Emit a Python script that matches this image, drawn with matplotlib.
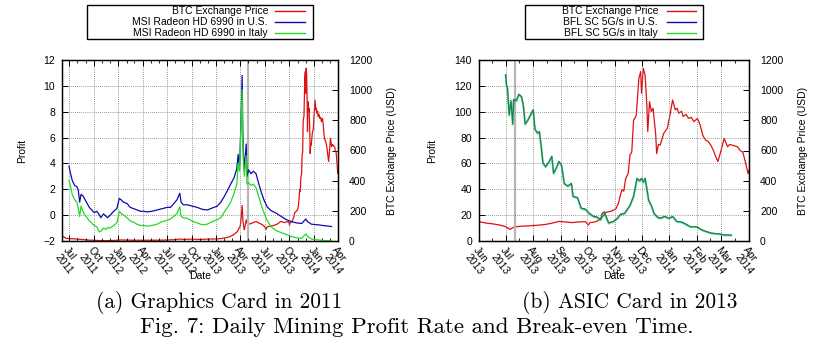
import matplotlib
matplotlib.use("Agg")
import matplotlib.pyplot as plt
import matplotlib.dates as mdates
from matplotlib.lines import Line2D
from matplotlib.patches import Rectangle
import pandas as pd

# BTC exchange price in USD (shared by both panels)
BTC_DATES = [
    "2011-06-05", "2011-06-10", "2011-06-20", "2011-07-01", "2011-07-15", "2011-08-01",
    "2011-08-15", "2011-09-01", "2011-09-15", "2011-10-01", "2011-10-20", "2011-11-01",
    "2011-11-18", "2011-12-01", "2011-12-20", "2012-01-10", "2012-02-01", "2012-03-01",
    "2012-04-01", "2012-05-01", "2012-06-01", "2012-07-01", "2012-08-01", "2012-08-16",
    "2012-09-01", "2012-10-01", "2012-11-01", "2012-12-01", "2013-01-01", "2013-01-20",
    "2013-02-01", "2013-02-20", "2013-03-07", "2013-03-20", "2013-03-26", "2013-04-01",
    "2013-04-04", "2013-04-08", "2013-04-09", "2013-04-11", "2013-04-16", "2013-04-18",
    "2013-04-23", "2013-04-27", "2013-05-01", "2013-05-09", "2013-05-20", "2013-05-28",
    "2013-06-01", "2013-06-10", "2013-06-16", "2013-06-25", "2013-07-01", "2013-07-06",
    "2013-07-10", "2013-07-18", "2013-07-27", "2013-08-05", "2013-08-15", "2013-08-22",
    "2013-08-30", "2013-09-07", "2013-09-14", "2013-09-22", "2013-09-29", "2013-10-02",
    "2013-10-04", "2013-10-10", "2013-10-14", "2013-10-18", "2013-10-22", "2013-10-28",
    "2013-11-02", "2013-11-05", "2013-11-07", "2013-11-09", "2013-11-11", "2013-11-13",
    "2013-11-16", "2013-11-18", "2013-11-20", "2013-11-22", "2013-11-25", "2013-11-28",
    "2013-11-30", "2013-12-01", "2013-12-03", "2013-12-05", "2013-12-07", "2013-12-08",
    "2013-12-10", "2013-12-12", "2013-12-14", "2013-12-16", "2013-12-17", "2013-12-18",
    "2013-12-20", "2013-12-22", "2013-12-26", "2013-12-30", "2014-01-02", "2014-01-05",
    "2014-01-08", "2014-01-10", "2014-01-12", "2014-01-15", "2014-01-17", "2014-01-20",
    "2014-01-23", "2014-01-26", "2014-01-29", "2014-02-02", "2014-02-05", "2014-02-08",
    "2014-02-11", "2014-02-14", "2014-02-17", "2014-02-20", "2014-02-22", "2014-02-25",
    "2014-02-28", "2014-03-04", "2014-03-08", "2014-03-10", "2014-03-13", "2014-03-16",
    "2014-03-19", "2014-03-22", "2014-03-25", "2014-03-28", "2014-03-31", "2014-04-01",
]
BTC_PRICE = [
    20, 30, 17, 16, 14, 13,
    10, 8, 5.5, 5, 3, 3.2,
    2.2, 3, 4, 7, 6, 5,
    4.9, 5, 5.3, 6.7, 9, 13,
    10.5, 12.4, 10.6, 12.5, 13.5, 16,
    20, 28, 42, 60, 80, 100,
    150, 235, 200, 130, 75, 90,
    140, 117, 110, 115, 122, 128,
    128, 118, 114, 105, 95, 77,
    92, 98, 100, 104, 110, 118,
    130, 126, 122, 127, 128, 105,
    122, 127, 139, 160, 190, 198,
    212, 250, 300, 340, 330, 410,
    450, 570, 590, 800, 830, 1078,
    1123, 980, 1145, 1100, 900, 725,
    924, 858, 880, 760, 703, 580,
    640, 636, 714, 747, 835, 935,
    869, 880, 847, 860, 825, 840,
    813, 820, 791, 813, 769, 700,
    670, 660, 636, 600, 567, 527,
    589, 680, 625, 640, 636, 630,
    625, 600, 589, 523, 446, 470,
]

# (a) graphics card profit
GPU_DATES = [
    "2011-07-01", "2011-07-06", "2011-07-13", "2011-07-22", "2011-07-31", "2011-08-05",
    "2011-08-10", "2011-08-15", "2011-08-22", "2011-08-30", "2011-09-07", "2011-09-15",
    "2011-09-24", "2011-10-03", "2011-10-13", "2011-10-23", "2011-10-28", "2011-11-07",
    "2011-11-17", "2011-11-22", "2011-12-02", "2011-12-15", "2011-12-27", "2012-01-05",
    "2012-01-11", "2012-01-21", "2012-02-03", "2012-02-15", "2012-02-28", "2012-03-11",
    "2012-03-24", "2012-04-05", "2012-04-18", "2012-05-06", "2012-05-25", "2012-06-13",
    "2012-07-02", "2012-07-14", "2012-07-27", "2012-08-08", "2012-08-18", "2012-08-23",
    "2012-08-31", "2012-09-15", "2012-10-03", "2012-10-22", "2012-11-10", "2012-11-29",
    "2012-12-17", "2013-01-05", "2013-01-18", "2013-01-30", "2013-02-12", "2013-02-24",
    "2013-03-09", "2013-03-19", "2013-03-24", "2013-03-29", "2013-04-03", "2013-04-08",
    "2013-04-10", "2013-04-12", "2013-04-16", "2013-04-19", "2013-04-23", "2013-04-26",
    "2013-05-02", "2013-05-11", "2013-05-20", "2013-05-30", "2013-06-08", "2013-06-18",
    "2013-06-28", "2013-07-10", "2013-07-25", "2013-08-13", "2013-09-01", "2013-09-20",
    "2013-10-09", "2013-10-28", "2013-11-16", "2013-12-02", "2013-12-08", "2013-12-23",
    "2014-01-17", "2014-02-11", "2014-03-08",
]
GPU_US = [
    3.8, 3.3, 2.7, 2.3, 2.2, 1.9,
    1.0, 1.6, 1.5, 1.2, 0.9, 0.6,
    0.4, 0.2, 0.3, 0.0, -0.2, 0.1,
    -0.1, -0.2, 0.0, 0.3, 0.5, 1.3,
    1.2, 1.0, 0.9, 0.6, 0.5, 0.4,
    0.3, 0.3, 0.25, 0.3, 0.4, 0.5,
    0.6, 0.6, 0.9, 1.2, 1.7, 1.0,
    0.8, 0.8, 0.7, 0.6, 0.45, 0.4,
    0.55, 0.7, 1.0, 1.4, 1.9, 2.4,
    2.9, 3.6, 4.7, 3.6, 6.8, 10.8,
    7.0, 5.0, 3.5, 4.4, 5.5, 3.0,
    3.5, 3.2, 3.4, 3.2, 2.5, 1.8,
    1.2, 0.65, 0.35, 0.15, -0.1, -0.35,
    -0.5, -0.6, -0.65, -0.3, -0.5, -0.7,
    -0.75, -0.82, -0.88,
]
GPU_IT = [
    2.7, 2.3, 1.6, 1.2, 1.0, 0.5,
    -0.1, 0.7, 0.3, 0.0, -0.2, -0.45,
    -0.6, -0.8, -0.9, -1.3, -1.25, -1.0,
    -1.1, -0.95, -1.0, -0.8, -0.6, 0.3,
    0.15, 0.0, -0.2, -0.45, -0.55, -0.7,
    -0.8, -0.8, -0.85, -0.8, -0.7, -0.5,
    -0.4, -0.3, -0.1, 0.15, 0.65, -0.1,
    -0.2, -0.25, -0.45, -0.6, -0.75, -0.7,
    -0.5, -0.35, -0.2, 0.2, 0.6, 1.0,
    1.7, 2.4, 4.0, 3.4, 6.5, 9.7,
    6.0, 4.4, 3.0, 3.6, 4.6, 2.4,
    2.5, 2.3, 2.4, 2.1, 1.5, 0.8,
    0.2, -0.4, -0.9, -1.2, -1.35, -1.5,
    -1.65, -1.75, -1.8, -1.45, -1.65, -1.85,
    -1.92, -1.97, -1.99,
]

# (b) ASIC card profit
ASIC_DATES = [
    "2013-07-01", "2013-07-02", "2013-07-03", "2013-07-05", "2013-07-07", "2013-07-09",
    "2013-07-10", "2013-07-13", "2013-07-16", "2013-07-19", "2013-07-21", "2013-07-23",
    "2013-07-26", "2013-07-29", "2013-08-01", "2013-08-03", "2013-08-06", "2013-08-08",
    "2013-08-10", "2013-08-12", "2013-08-15", "2013-08-19", "2013-08-22", "2013-08-24",
    "2013-08-27", "2013-08-30", "2013-09-02", "2013-09-05", "2013-09-09", "2013-09-13",
    "2013-09-15", "2013-09-20", "2013-09-24", "2013-09-29", "2013-10-03", "2013-10-08",
    "2013-10-12", "2013-10-16", "2013-10-18", "2013-10-20", "2013-10-25", "2013-10-30",
    "2013-11-04", "2013-11-07", "2013-11-12", "2013-11-18", "2013-11-22", "2013-11-26",
    "2013-11-29", "2013-12-01", "2013-12-03", "2013-12-05", "2013-12-07", "2013-12-09",
    "2013-12-12", "2013-12-15", "2013-12-19", "2013-12-22", "2013-12-27", "2014-01-01",
    "2014-01-05", "2014-01-10", "2014-01-14", "2014-01-18", "2014-01-25", "2014-02-01",
    "2014-02-07", "2014-02-12", "2014-02-18", "2014-02-26", "2014-03-04", "2014-03-12",
]
ASIC_US = [
    128.5, 120.5, 118.5, 97.5, 108.5, 90.5,
    109.5, 108.5, 113.5, 111.5, 104.5, 90.5,
    93.5, 97.5, 101.5, 86.5, 83.5, 84.5,
    73.5, 60.5, 57.5, 61.5, 65.5, 52.5,
    56.5, 61.5, 58.5, 44.5, 42.5, 44.5,
    34.5, 33.5, 25.5, 24.5, 21.5, 19,
    18.5, 16.5, 21.5, 22.5, 14, 15,
    17.5, 20.5, 21.5, 27.5, 34.5, 48.5,
    46.5, 48.5, 45.5, 48.5, 40.5, 31.5,
    27.5, 21.5, 18.5, 17.5, 19, 17.5,
    19, 15, 14.8, 13.8, 11, 11,
    8.6, 7.3, 6, 5.5, 4.7, 4.5,
]
ASIC_IT = [
    128, 120, 118, 97, 108, 90,
    109, 108, 113, 111, 104, 90,
    93, 97, 101, 86, 83, 84,
    73, 60, 57, 61, 65, 52,
    56, 61, 58, 44, 42, 44,
    34, 33, 25, 24, 21, 18.6,
    18, 16, 21, 22, 13.4, 14.7,
    17.3, 20, 21, 27, 34, 48,
    46, 48, 45, 48, 40, 31,
    27, 21, 18, 17.3, 18.6, 17.3,
    18.6, 14.7, 14.5, 13.4, 10.8, 10.8,
    8.3, 7, 5.7, 5.2, 4.4, 4.2,
]

GPU_BREAK_EVEN = "2013-04-28"
ASIC_BREAK_EVEN = "2013-07-12"

RED = "#e01010"
BLUE = "#0c0cb0"
GREEN = "#22dd22"
SANS = "Liberation Sans"
FS = 7.5

plt.rcParams["font.family"] = SANS
plt.rcParams["font.size"] = FS


def style_axes(ax, ax2):
    ax.tick_params(which="both", direction="in", top=True, labelsize=FS)
    ax.tick_params(which="major", length=4, width=0.7)
    ax.tick_params(which="minor", length=2, width=0.6)
    ax.tick_params(axis="y", pad=5)
    ax.tick_params(axis="x", pad=3)
    ax2.tick_params(direction="in", length=4, width=0.7, labelsize=FS, pad=8)
    ax.grid(True, which="major", color="#777777", linestyle=(0, (1, 1.5)), linewidth=0.6)
    for sp in ax.spines.values():
        sp.set_linewidth(1.0)
    for lab in ax.get_xticklabels():
        lab.set_rotation(-52)
        lab.set_ha("left")
        lab.set_va("top")
        lab.set_rotation_mode("anchor")
        lab.set_linespacing(1.1)
    ax.set_zorder(ax2.get_zorder() + 1)
    ax.patch.set_visible(False)


def draw_legend(fig, box, text_right, line_x, labels, colors):
    W, H = fig.get_size_inches() * fig.dpi
    x0, y0, x1, y1 = box
    fig.add_artist(Rectangle((x0 / W, 1 - y1 / H), (x1 - x0) / W, (y1 - y0) / H,
                             transform=fig.transFigure, fill=False, edgecolor="black", linewidth=1.0))
    for i, (lab, col) in enumerate(zip(labels, colors)):
        yc = 1 - (y0 + 6 + i * 11) / H
        fig.text(text_right / W, yc, lab, ha="right", va="center", fontsize=FS)
        fig.add_artist(Line2D([line_x[0] / W, line_x[1] / W], [yc, yc],
                              transform=fig.transFigure, color=col, linewidth=1.0))


fig = plt.figure(figsize=(8.33, 3.51), dpi=100)
W, H = 833, 351

btc_dates = pd.to_datetime(BTC_DATES)

# (a) graphics card
ax = fig.add_axes([62 / W, 1 - 241 / H, 276 / W, 181 / H])
ax2 = ax.twinx()
ax2.plot(btc_dates, BTC_PRICE, color=RED, linewidth=0.9)
ax.plot(pd.to_datetime(GPU_DATES), GPU_US, color=BLUE, linewidth=0.9)
ax.plot(pd.to_datetime(GPU_DATES), GPU_IT, color=GREEN, linewidth=0.9)
ax.axvline(pd.Timestamp(GPU_BREAK_EVEN), color="#b8b8b8", linewidth=1.6, zorder=0)
ax.set_xlim(pd.Timestamp("2011-06-05"), pd.Timestamp("2014-04-01"))
ax.set_ylim(-2, 12)
ax.set_yticks(range(-2, 13, 2))
ax2.set_ylim(0, 1200)
ax2.set_yticks(range(0, 1201, 200))
ax.xaxis.set_major_locator(mdates.MonthLocator(bymonth=[1, 4, 7, 10]))
ax.xaxis.set_minor_locator(mdates.MonthLocator())
ax.xaxis.set_major_formatter(mdates.DateFormatter("%b\n%Y"))
ax.set_ylabel("Profit", fontsize=FS)
ax.yaxis.set_label_coords(-0.127, 0.5)
ax2.set_ylabel("BTC Exchange Price (USD)", fontsize=FS)
ax2.yaxis.set_label_coords(1.178, 0.5)
ax.set_xlabel("Date", fontsize=FS)
ax.xaxis.set_label_coords(0.5, -0.165)
style_axes(ax, ax2)

# (b) ASIC card
bx = fig.add_axes([479 / W, 1 - 241 / H, 270 / W, 181 / H])
bx2 = bx.twinx()
bx2.plot(btc_dates, BTC_PRICE, color=RED, linewidth=0.9)
bx.plot(pd.to_datetime(ASIC_DATES), ASIC_US, color=BLUE, linewidth=0.9)
bx.plot(pd.to_datetime(ASIC_DATES), ASIC_IT, color=GREEN, linewidth=1.5, alpha=0.55)
bx.axvline(pd.Timestamp(ASIC_BREAK_EVEN), color="#b8b8b8", linewidth=1.6, zorder=0)
bx.set_xlim(pd.Timestamp("2013-06-01"), pd.Timestamp("2014-04-01"))
bx.set_ylim(0, 140)
bx.set_yticks(range(0, 141, 20))
bx2.set_ylim(0, 1200)
bx2.set_yticks(range(0, 1201, 200))
bx.xaxis.set_major_locator(mdates.MonthLocator())
bx.xaxis.set_minor_locator(mdates.MonthLocator(bymonthday=16))
bx.xaxis.set_major_formatter(mdates.DateFormatter("%b\n%Y"))
bx.set_ylabel("Profit", fontsize=FS)
bx.yaxis.set_label_coords(-0.156, 0.5)
bx2.set_ylabel("BTC Exchange Price (USD)", fontsize=FS)
bx2.yaxis.set_label_coords(1.181, 0.5)
bx.set_xlabel("Date", fontsize=FS)
bx.xaxis.set_label_coords(0.5, -0.165)
style_axes(bx, bx2)

draw_legend(fig, (87, 5, 313, 39), 268, (275, 305),
            ["BTC Exchange Price", "MSI Radeon HD 6990 in U.S.", "MSI Radeon HD 6990 in Italy"],
            [RED, BLUE, GREEN])
draw_legend(fig, (525, 5, 703, 39), 658, (667, 696),
            ["BTC Exchange Price", "BFL SC 5G/s in U.S.", "BFL SC 5G/s in Italy"],
            [RED, BLUE, GREEN])

fig.text(219 / W, 1 - 302 / H, "(a) Graphics Card in 2011", family="cmr10", fontsize=15.4,
         ha="center", va="center")
fig.text(630 / W, 1 - 302 / H, "(b) ASIC Card in 2013", family="cmr10", fontsize=15.4,
         ha="center", va="center")
fig.text(417 / W, 1 - 327 / H, "Fig. 7: Daily Mining Profit Rate and Break-even Time.",
         family="cmr10", fontsize=16.5, ha="center", va="center")

fig.savefig("out.png", dpi=100)
